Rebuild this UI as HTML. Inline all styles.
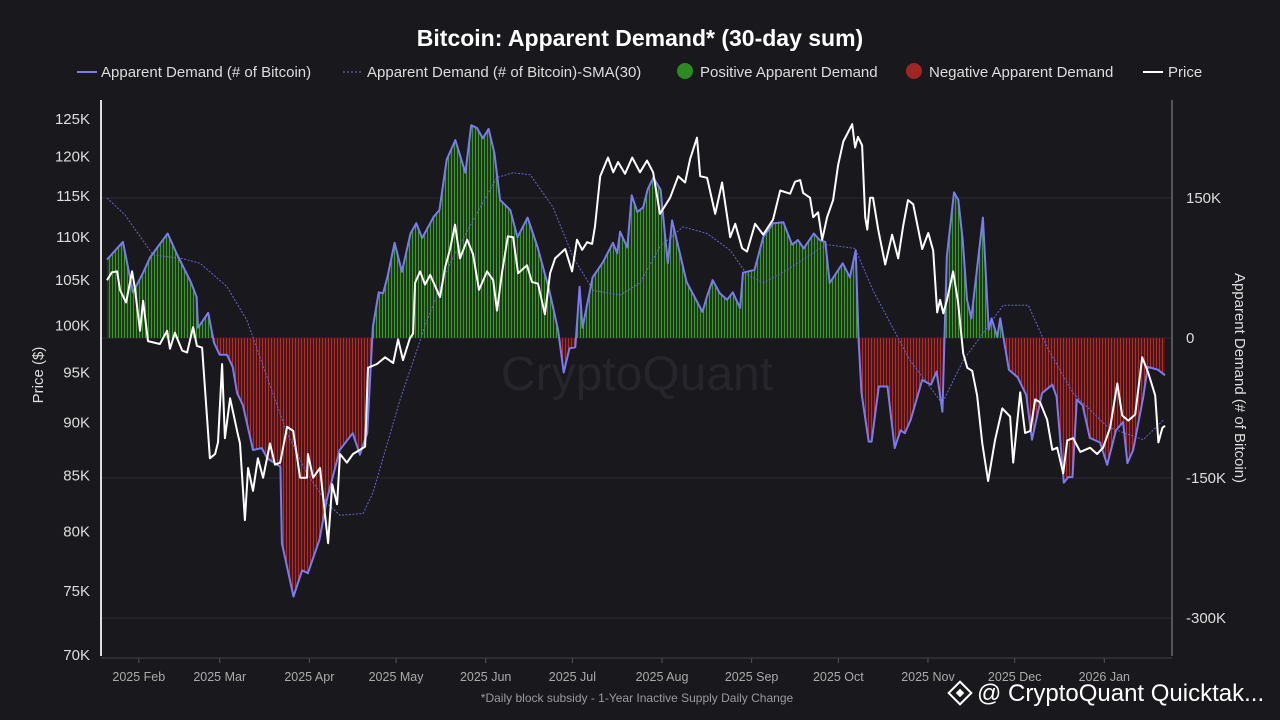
<!DOCTYPE html>
<html><head><meta charset="utf-8"><style>
html,body{margin:0;padding:0;background:#19181d;}
svg{display:block;font-family:"Liberation Sans",sans-serif;}
</style></head><body>
<svg id="chart" width="1280" height="720" viewBox="0 0 1280 720">
<defs>
<pattern id="gpat" width="3" height="10" patternUnits="userSpaceOnUse"><rect width="3" height="10" fill="#1c3a17"/><rect x="1" width="1" height="10" fill="#3c9a2a"/></pattern>
<pattern id="rpat" width="3" height="10" patternUnits="userSpaceOnUse"><rect width="3" height="10" fill="#4a1719"/><rect x="1" width="1" height="10" fill="#b52b2b"/></pattern>
<clipPath id="clipPos"><rect x="100" y="90" width="1080" height="248"/></clipPath>
<clipPath id="clipNeg"><rect x="100" y="338" width="1080" height="330"/></clipPath>
</defs>
<rect width="1280" height="720" fill="#19181d"/>
<text x="640" y="46" text-anchor="middle" fill="#fff" font-size="23" font-weight="bold">Bitcoin: Apparent Demand* (30-day sum)</text>
<g id="legend" font-size="15" fill="#ddd">
  <g><line x1="77" y1="72" x2="97" y2="72" stroke="#7b7bf0" stroke-width="2"/><text x="101" y="77">Apparent Demand (# of Bitcoin)</text></g>
  <g><line x1="343" y1="72" x2="363" y2="72" stroke="#6b6bdc" stroke-width="1" stroke-dasharray="2,2"/><text x="367" y="77">Apparent Demand (# of Bitcoin)-SMA(30)</text></g>
  <g><circle cx="685" cy="71" r="8" fill="#2e8a22"/><text x="700" y="77">Positive Apparent Demand</text></g>
  <g><circle cx="914" cy="71" r="8" fill="#a02525"/><text x="929" y="77">Negative Apparent Demand</text></g>
  <g><line x1="1143" y1="72" x2="1163" y2="72" stroke="#fff" stroke-width="2"/><text x="1168" y="77">Price</text></g>
</g>
<text x="637" y="390" text-anchor="middle" fill="#25252b" font-size="48">CryptoQuant</text>
<g id="grid"></g>
<g id="area"></g>
<g id="lines"></g>
<g id="axes"></g>
<text x="637" y="702" text-anchor="middle" fill="#9a9aa0" font-size="12">*Daily block subsidy - 1-Year Inactive Supply Daily Change</text>
<g>
  <g transform="translate(960,693) rotate(45)"><rect x="-8" y="-8" width="16" height="16" fill="none" stroke="#fff" stroke-width="2"/><rect x="-3" y="-3" width="6" height="6" fill="#fff"/></g>
  <text x="977" y="701" fill="#fff" font-size="24">@ CryptoQuant Quicktak...</text>
</g>
</svg>
<script>
const demandDays=[0,5.5,9,12.5,15,21,24,29,31,31.5,35,37,39,41.5,43.5,45,47,50.5,53.5,55.5,60,60.5,64.5,67.5,69.5,73.5,76,80.5,85,87.5,90,92,94,95.5,97,99.5,102,105,107,109,113,115,117.5,120.5,124,126,128,130,132,134,136,139.5,142,145.5,149,153,156,158,160,162,163.5,164.5,168,171.5,175,176.5,177.5,180,181.5,183.5,185.5,187,189,191.5,194,195.5,200.5,206,207.5,209.5,212,214.5,216.5,219,220,224,227,230.5,234,237,239,241,244.5,246.5,248.5,250,254.5,257,259,260,261,263.5,264.5,267,270,272.5,274.5,276,278,282,285,287,289,290.5,293,294.5,296,297.5,299,303,305,306,308,309,312,315,318,320,323.5,327,328.5,331,332.5,334,335.5,337.5,340,343.5,346,349,351.5,353,355,358.5,360,363.5,366];
const demandValues=[84,103,49,70,87,112,91,60,44,11,27,-5,-18,-18,-31,-59,-72,-120,-118,-129,-138,-220,-277,-249,-252,-216,-174,-120,-102,-125,-102,12,49,48,65,102,71,112,123,107,130,137,191,212,177,228,225,214,224,198,148,137,108,129,97,51,9,-37,-11,-10,55,11,65,81,102,91,114,97,153,135,140,159,172,159,80,126,60,28,44,62,48,41,49,32,70,73,108,123,124,100,105,96,112,105,103,59,80,65,94,-2,-59,-111,-111,-52,-52,-118,-99,-102,-88,-45,-50,-36,-79,87,156,148,105,41,21,129,9,21,1,21,-34,-42,-61,-109,-59,-50,-63,-155,-149,-149,-66,-72,-107,-112,-136,-99,-90,-134,-120,-63,-31,-34,-40];
const smaDays=[0,6.2,15.9,26.3,32.2,41.5,48.4,55.4,62.3,69.2,76.1,80.6,88.6,92,101.4,110.7,118.7,126.6,134.9,140.5,146.4,154.3,161.2,168.2,177.5,184.4,191.3,199.3,207.6,215.6,221.4,227,235.3,246.7,249.1,258.8,265,277.8,288.9,296.2,302.1,310,318.7,325.2,334.2,346,358.5,365.4];
const smaValues=[150,132,89,85,80,55,19,-42,-102,-145,-177,-190,-188,-166,-66,19,80,126,172,177,175,140,87,51,46,59,98,119,112,94,68,59,73,96,100,96,51,-24,-70,-24,1,35,35,-10,-59,-95,-109,-88];
const priceDays=[0,1.7,3.5,4.5,6.6,8.7,9.7,11.4,12.5,14.2,18.3,20.8,21.8,23.5,26,27.7,29.8,31.1,32.9,35.6,37.4,38.4,39.8,40.8,42.6,45,46,47.7,48.8,50.5,52.2,54,56.4,58.1,59.9,62.3,64.4,66.8,69.2,69.5,71.3,73.7,75.4,76.5,77.9,79.6,80.6,83,85.1,87.5,89.3,90.3,93.4,96.2,99,100.7,102.4,104.8,105.9,106.6,108.3,110,111.8,115.2,117,118.7,120.4,122.1,124.6,126.6,128.7,131.5,133.6,134.9,136.7,138.7,140.5,142.2,145.3,147,149.1,151.5,153.3,155,158.5,160.9,162.6,164.4,166.1,167.8,168.8,170.6,173.3,175.1,176.8,179.2,181.7,184.4,186.8,188.9,191.3,194.8,197.6,200,201.7,204.1,205.2,207.6,210.4,212.8,215.6,217.3,219.7,221.4,224.2,227,230.4,232.9,236.3,238,239.8,240.8,243.2,244.3,246,247.4,249.1,251.2,252.9,254.7,257.8,258.8,259.8,261.2,262.3,263,264,265,266.8,269.2,271.6,273.7,275.4,277.1,278.9,282,284.1,285.8,287.2,288.2,289.3,290.6,292.7,294.4,296.2,297.6,299.3,301,302.8,304.8,307.2,309.7,312.4,313.5,315.9,317.6,319.4,321.1,322.8,325.2,327,328.7,330.8,332.2,334.2,336.7,340.1,342.5,344.6,347,349.5,351.2,353.3,355.7,358.1,360.2,362.6,363.7,365.1,366];
const priceValues=[105,105.9,106,103.9,102.5,106,104,99.4,102.7,98.3,98,99.4,97.5,99.2,97.3,97.1,99.8,97.8,97.6,86.6,87,88.1,95.9,88.5,92.4,89.2,88,81,85.7,83.6,86.6,84.8,88,86,86.2,89.6,89.2,84.8,84.8,87,84.8,85.7,81.5,79,84.2,82.4,87,86.2,87,87.4,87.7,95.5,95.9,96.6,96,98.5,96.3,98.6,99.1,104.7,106,104.5,105.6,103.1,106.5,108.6,111.5,107.5,109.7,108,103.9,106,105,101.6,106,110.1,110,105.8,106.7,104.8,104.6,101.2,105.8,107.5,108.6,106,109.7,108.5,109.4,109.2,111.3,117.5,119.9,118,119.3,117.8,119.9,118,119.5,118,112.8,114.8,117.5,116.7,119.7,122.5,117.5,117.3,112.8,116.7,110,111.6,108.7,108.3,111.6,110.3,112.1,115.7,115.3,116.8,117,115.4,114.8,112.4,113,109.7,112.4,114.5,118.9,122,124.3,121.2,122.6,121.5,112.4,110.9,114.8,114.8,110.9,106.8,110.3,107.5,111.3,114.5,114,108.6,110.5,108.4,101.4,102.8,101.3,102.8,106,102.6,97,95.5,95.2,92.7,88,84.5,88.3,91.4,90.6,86.2,93,89,89.2,92.3,92,90.3,87.4,87.6,85.2,88.3,88.5,87.2,87.6,87,87.6,89.5,93.9,90.7,90.2,90.8,96.6,95,92.7,88.1,89.5,89.7];
const priceTicks=[125,120,115,110,105,100,95,90,85,80,75,70];
const priceTickLabels=["125K","120K","115K","110K","105K","100K","95K","90K","85K","80K","75K","70K"];
const demandTicks=[150,0,-150,-300];
const demandTickLabels=["150K","0","-150K","-300K"];
const monthDays=[11,39,70,100,131,161,192,223,253,284,314,345];
const monthLabels=["2025 Feb","2025 Mar","2025 Apr","2025 May","2025 Jun","2025 Jul","2025 Aug","2025 Sep","2025 Oct","2025 Nov","2025 Dec","2026 Jan"];

const NS='http://www.w3.org/2000/svg';
const X0=107,X1=1165,D0=0,D1=366;
const xS=d=>X0+(d-D0)/(D1-D0)*(X1-X0);
const yD=v=>338-v/150*140;
const LPmin=Math.log10(70),LPmax=Math.log10(125);
const yP=p=>655-(Math.log10(p)-LPmin)/(LPmax-LPmin)*536;
function mk(tag,attrs,parent){const e=document.createElementNS(NS,tag);for(const k in attrs)e.setAttribute(k,attrs[k]);parent.appendChild(e);return e;}
const grid=document.getElementById('grid'),area=document.getElementById('area'),lines=document.getElementById('lines'),axes=document.getElementById('axes');

demandTicks.forEach((t,i)=>{
  const gl=mk('line',{x1:101,x2:1172,y1:yD(t),y2:yD(t),stroke:'#2a2a31','stroke-width':1},grid);
  
  
  const tl=mk('text',{x:1186,y:yD(t)+5,fill:'#ddd','font-size':15},axes);
  tl.textContent=demandTickLabels[i];
  
  
});
priceTicks.forEach((t,i)=>{
  const tl=mk('text',{x:90,y:yP(t)+5,fill:'#ddd','font-size':15,'text-anchor':'end'},axes);
  tl.textContent=priceTickLabels[i];
  
  
});
monthDays.forEach((d,i)=>{
  const tk=mk('line',{x1:xS(d),x2:xS(d),y1:658,y2:663,stroke:'#555'},axes);
  
  
  const tl=mk('text',{x:xS(d),y:681,fill:'#aaa','font-size':12.5,'text-anchor':'middle'},axes);
  tl.textContent=monthLabels[i];
  
  
});
let al=mk('line',{x1:101,x2:101,y1:100,y2:656,stroke:'#ddd','stroke-width':2},axes);
 
al=mk('line',{x1:1172,x2:1172,y1:100,y2:656,stroke:'#555','stroke-width':2},axes);
 
al=mk('line',{x1:101,x2:1172,y1:658,y2:658,stroke:'#444','stroke-width':1},axes);
 
let at=mk('text',{transform:'translate(43,375) rotate(-90)',fill:'#ddd','font-size':15,'text-anchor':'middle'},axes);
at.textContent='Price ($)';
 
at=mk('text',{transform:'translate(1235,378) rotate(90)',fill:'#ddd','font-size':15,'text-anchor':'middle'},axes);
at.textContent='Apparent Demand (# of Bitcoin)';
 

const pts=demandDays.map((d,i)=>xS(d).toFixed(1)+','+yD(demandValues[i]).toFixed(1));
const areaPath='M'+xS(demandDays[0])+','+yD(0)+' L'+pts.join(' L')+' L'+xS(demandDays[demandDays.length-1])+','+yD(0)+' Z';
const ap=mk('path',{d:areaPath,fill:'url(#gpat)','clip-path':'url(#clipPos)'},area);
 
const an=mk('path',{d:areaPath,fill:'url(#rpat)','clip-path':'url(#clipNeg)'},area);
 

const sp=smaDays.map((d,i)=>xS(d).toFixed(1)+','+yD(smaValues[i]).toFixed(1));
const sl=mk('path',{d:'M'+sp.join(' L'),fill:'none',stroke:'#6464d8','stroke-width':1,'stroke-dasharray':'2,1.5'},lines);
 
const dl=mk('path',{d:'M'+pts.join(' L'),fill:'none',stroke:'#7b7bf0','stroke-width':2,'stroke-linejoin':'round'},lines);
 
const pp=priceDays.map((d,i)=>xS(d).toFixed(1)+','+yP(priceValues[i]).toFixed(1));
const pl=mk('path',{d:'M'+pp.join(' L'),fill:'none',stroke:'#fff','stroke-width':2,'stroke-linejoin':'round'},lines);
 
</script>
</body></html>
